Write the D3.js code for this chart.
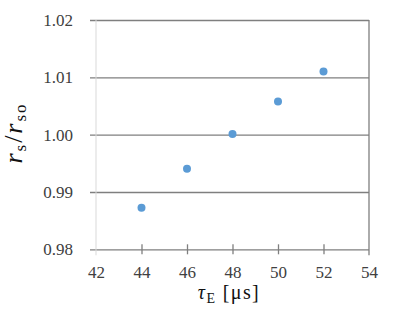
<!DOCTYPE html>
<html>
<head>
<meta charset="utf-8">
<script src="https://cdn.jsdelivr.net/npm/d3@7"></script>
<style>
  body { margin: 0; background: #fff; }
</style>
</head>
<body>
<div id="chart"></div>
<script>
const tau = [44, 46, 48, 50, 52];
const ratio = [0.98725, 0.99405, 1.0001, 1.0058, 1.0110];
const xTicks = [42, 44, 46, 48, 50, 52, 54];
const yTicks = [0.98, 0.99, 1.00, 1.01, 1.02];

const serif = "Liberation Serif";
const width = 394;
const height = 311;
const margin = { top: 20, right: 25, bottom: 61.7, left: 96 };
const innerW = width - margin.left - margin.right;
const innerH = height - margin.top - margin.bottom;

const x = d3.scaleLinear().domain([42, 54]).range([0, innerW]);
const y = d3.scaleLinear().domain([0.98, 1.02]).range([innerH, 0]);

const svg = d3.select("#chart")
  .append("svg")
  .attr("width", width)
  .attr("height", height);

const g = svg.append("g")
  .attr("transform", `translate(${margin.left},${margin.top})`);

// y-as met gridlijnen
const yAs = d3.axisLeft(y)
  .tickValues(yTicks)
  .tickSize(-innerW)
  .tickPadding(23)
  .tickFormat(d3.format(".2f"));

g.append("g")
  .attr("class", "y-as")
  .call(yAs)
  .attr("font-family", serif)
  .call(s => s.select(".domain").remove())
  .call(s => s.selectAll(".tick line")
    .attr("x1", -6)
    .attr("stroke", "#7f7f7f")
    .attr("stroke-width", 1.3))
  .call(s => s.selectAll(".tick text")
    .attr("font-family", serif)
    .attr("font-size", 17)
    .attr("fill", "#404040"));

// lichte lijn bij x = 42
g.append("line")
  .attr("x1", x(42)).attr("x2", x(42))
  .attr("y1", 0).attr("y2", innerH + 6)
  .attr("stroke", "#d9d9d9");

// rechterrand
g.append("line")
  .attr("x1", x(54)).attr("x2", x(54))
  .attr("y1", 0).attr("y2", innerH + 6)
  .attr("stroke", "#7f7f7f")
  .attr("stroke-width", 1.3);

// x-as
const xAs = d3.axisBottom(x)
  .tickValues(xTicks)
  .tickSize(5)
  .tickPadding(12)
  .tickFormat(d3.format("d"));

g.append("g")
  .attr("class", "x-as")
  .attr("transform", `translate(0,${innerH})`)
  .call(xAs)
  .attr("font-family", serif)
  .call(s => s.select(".domain").remove())
  .call(s => s.selectAll(".tick line")
    .attr("y1", -5)
    .attr("stroke", d => d === 42 || d === 54 ? "none" : "#7f7f7f")
    .attr("stroke-width", 1.3))
  .call(s => s.selectAll(".tick text")
    .attr("font-family", serif)
    .attr("font-size", 17)
    .attr("fill", "#404040"));

// punten
g.selectAll("circle")
  .data(tau)
  .join("circle")
  .attr("cx", d => x(d))
  .attr("cy", (d, i) => y(ratio[i]))
  .attr("r", 4)
  .attr("fill", "#5b9bd5");

// as-titels
svg.append("text")
  .attr("x", 229)
  .attr("y", 299)
  .attr("text-anchor", "middle")
  .attr("font-family", serif)
  .attr("font-size", 20)
  .attr("letter-spacing", 1.4)
  .attr("fill", "#111")
  .html('<tspan font-style="italic">τ</tspan><tspan font-size="14" dy="4">E</tspan><tspan dy="-4"> [μs]</tspan>');

svg.append("text")
  .attr("transform", "translate(22,133) rotate(-90)")
  .attr("text-anchor", "middle")
  .attr("font-family", serif)
  .attr("font-size", 26)
  .attr("letter-spacing", 2)
  .attr("fill", "#111")
  .html('<tspan font-style="italic">r</tspan><tspan font-size="17" dy="4">s</tspan><tspan dy="-4">/</tspan><tspan font-style="italic">r</tspan><tspan font-size="17" dy="4">so</tspan>');
</script>
</body>
</html>
